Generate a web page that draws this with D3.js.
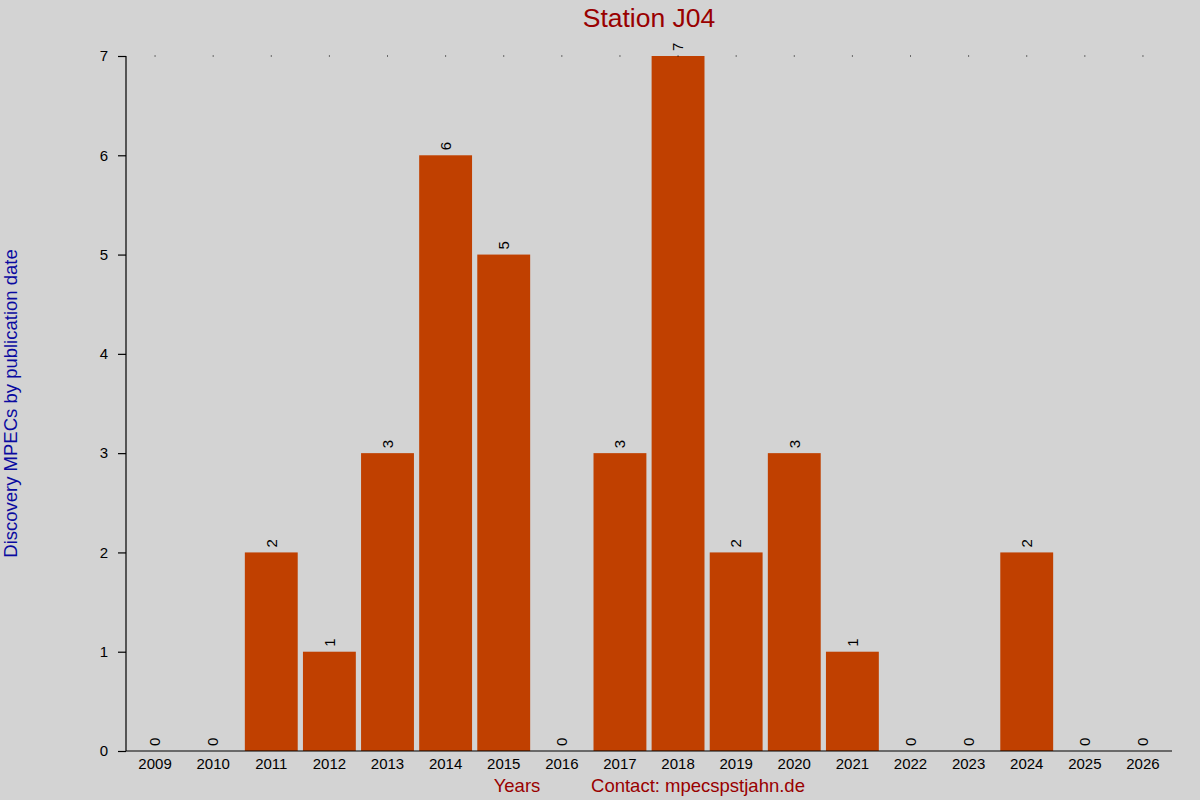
<!DOCTYPE html>
<html>
<head>
<meta charset="utf-8">
<script src="https://cdn.jsdelivr.net/npm/d3@7"></script>
<style>
  body { margin: 0; background: #d3d3d3; }
  svg { display: block; font-family: "Liberation Sans", Arial, sans-serif; }
</style>
</head>
<body>
<div id="chart"></div>
<script>
const years = ['2009', '2010', '2011', '2012', '2013', '2014', '2015', '2016', '2017',
  '2018', '2019', '2020', '2021', '2022', '2023', '2024', '2025', '2026'];
const counts = [0, 0, 2, 1, 3, 6, 5, 0, 3, 7, 2, 3, 1, 0, 0, 2, 0, 0];
const yTicks = [0, 1, 2, 3, 4, 5, 6, 7];

const width = 1200;
const height = 800;
const plotLeft = 126, plotRight = 1172, plotTop = 56, plotBottom = 751;

const x = d3.scaleBand()
  .domain(years)
  .range([plotLeft, plotRight])
  .paddingInner(0.09)
  .paddingOuter(0.045);

const y = d3.scaleLinear()
  .domain([0, 7])
  .range([plotBottom, plotTop]);

const svg = d3.select('#chart').append('svg')
  .attr('width', width)
  .attr('height', height)
  .attr('viewBox', [0, 0, width, height]);

svg.append('rect')
  .attr('width', width)
  .attr('height', height)
  .attr('fill', '#d3d3d3');

// bars
svg.append('g')
  .attr('fill', '#c04000')
  .selectAll()
  .data(years)
  .join('rect')
    .attr('x', d => x(d))
    .attr('y', (d, i) => y(counts[i]))
    .attr('width', x.bandwidth())
    .attr('height', (d, i) => y(0) - y(counts[i]));

// small dots along the top
svg.append('g')
  .attr('fill', '#000')
  .selectAll()
  .data(years)
  .join('rect')
    .attr('x', d => x(d) + x.bandwidth() / 2 - 0.5)
    .attr('y', y(7) - 0.5)
    .attr('width', 1)
    .attr('height', 1);

// value labels
svg.append('g')
  .attr('font-size', 15)
  .attr('fill', '#000')
  .selectAll()
  .data(years)
  .join('text')
    .attr('transform', (d, i) => `translate(${x(d) + x.bandwidth() / 2},${y(counts[i]) - 5}) rotate(-90)`)
    .attr('dy', '0.35em')
    .attr('text-anchor', 'start')
    .text((d, i) => counts[i]);

// y axis
svg.append('g')
  .attr('transform', `translate(${plotLeft},0)`)
  .call(d3.axisLeft(y).tickValues(yTicks).tickSize(8).tickPadding(10).tickFormat(d3.format('d')))
  .call(g => g.select('.domain').attr('d', `M0,${plotTop}V${plotBottom}`).attr('stroke-width', 1.2))
  .call(g => g.selectAll('.tick line').attr('stroke-width', 1.2))
  .call(g => g.selectAll('.tick text').attr('font-size', 15).attr('fill', '#000').attr('font-family', null));

// x axis
svg.append('g')
  .attr('transform', `translate(0,${plotBottom})`)
  .call(d3.axisBottom(x).tickSize(0).tickPadding(7))
  .call(g => g.select('.domain').attr('d', `M${plotLeft},0H${plotRight}`).attr('stroke-width', 1.2))
  .call(g => g.selectAll('.tick text').attr('font-size', 15).attr('fill', '#000').attr('font-family', null));

// title and axis labels
svg.append('text')
  .attr('x', (plotLeft + plotRight) / 2)
  .attr('y', 27)
  .attr('text-anchor', 'middle')
  .attr('font-size', 26.5)
  .attr('fill', '#990000')
  .text('Station J04');

svg.append('text')
  .attr('transform', `translate(17,${(plotTop + plotBottom) / 2}) rotate(-90)`)
  .attr('text-anchor', 'middle')
  .attr('font-size', 18.5)
  .attr('fill', '#0a0aa0')
  .text('Discovery MPECs by publication date');

svg.append('text')
  .attr('x', 517)
  .attr('y', 792)
  .attr('text-anchor', 'middle')
  .attr('font-size', 18.5)
  .attr('fill', '#990000')
  .text('Years');

svg.append('text')
  .attr('x', 698)
  .attr('y', 792)
  .attr('text-anchor', 'middle')
  .attr('font-size', 18.5)
  .attr('fill', '#990000')
  .text('Contact: mpecspstjahn.de');
</script>
</body>
</html>
